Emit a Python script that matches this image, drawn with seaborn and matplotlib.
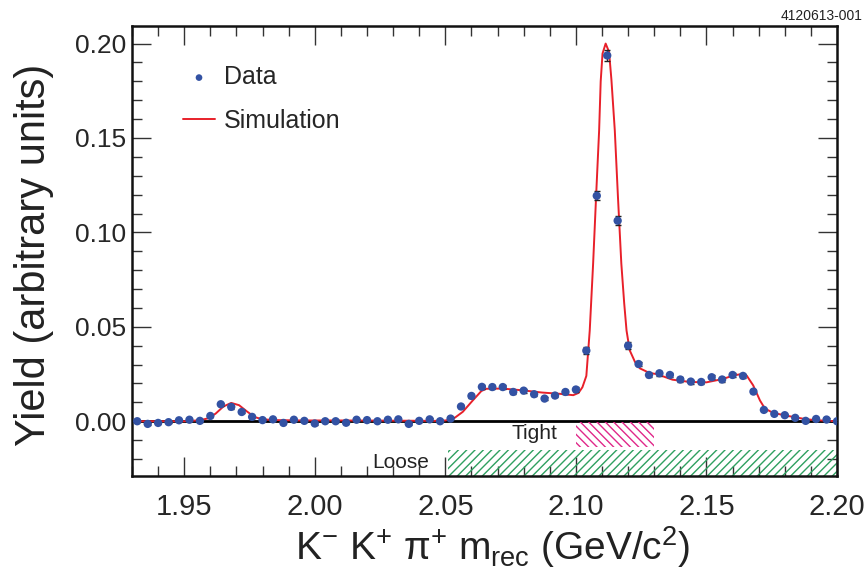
import matplotlib
matplotlib.use("Agg")
import matplotlib.pyplot as plt
import seaborn as sns
from matplotlib.patches import Rectangle

# bin centres (GeV/c^2) and measured yield
mass = [1.932, 1.936, 1.940, 1.944, 1.948, 1.952, 1.956, 1.960, 1.964, 1.968,
        1.972, 1.976, 1.980, 1.984, 1.988, 1.992, 1.996, 2.000, 2.004, 2.008,
        2.012, 2.016, 2.020, 2.024, 2.028, 2.032, 2.036, 2.040, 2.044, 2.048,
        2.052, 2.056, 2.060, 2.064, 2.068, 2.072, 2.076, 2.080, 2.084, 2.088,
        2.092, 2.096, 2.100, 2.104, 2.108, 2.112, 2.116, 2.120, 2.124, 2.128,
        2.132, 2.136, 2.140, 2.144, 2.148, 2.152, 2.156, 2.160, 2.164, 2.168,
        2.172, 2.176, 2.180, 2.184, 2.188, 2.192, 2.196, 2.200]
yield_data = [0.0000, -0.0014, -0.0009, -0.0005, 0.0005, 0.0008, 0.0002, 0.0028, 0.0090, 0.0076,
              0.0049, 0.0023, 0.0006, 0.0010, -0.0009, 0.0008, 0.0002, -0.0012, 0.0000, 0.0000,
              -0.0008, 0.0008, 0.0006, 0.0000, 0.0008, 0.0010, -0.0014, 0.0002, 0.0010, 0.0000,
              0.0014, 0.0078, 0.0134, 0.0182, 0.0181, 0.0181, 0.0155, 0.0162, 0.0143, 0.0120,
              0.0136, 0.0155, 0.0168, 0.0374, 0.1194, 0.1937, 0.1062, 0.0400, 0.0303, 0.0245,
              0.0254, 0.0245, 0.0221, 0.0210, 0.0208, 0.0233, 0.0221, 0.0245, 0.0240, 0.0157,
              0.0060, 0.0039, 0.0032, 0.0018, 0.0002, 0.0012, 0.0009, 0.0000]
yield_err = [0.0006, 0.0006, 0.0006, 0.0006, 0.0006, 0.0006, 0.0006, 0.0007, 0.0009, 0.0009,
             0.0008, 0.0007, 0.0006, 0.0006, 0.0006, 0.0006, 0.0006, 0.0006, 0.0006, 0.0006,
             0.0006, 0.0006, 0.0006, 0.0006, 0.0006, 0.0006, 0.0006, 0.0006, 0.0006, 0.0006,
             0.0006, 0.0008, 0.0010, 0.0011, 0.0011, 0.0011, 0.0010, 0.0010, 0.0010, 0.0009,
             0.0010, 0.0010, 0.0011, 0.0018, 0.0025, 0.0030, 0.0023, 0.0017, 0.0013, 0.0012,
             0.0012, 0.0012, 0.0011, 0.0011, 0.0011, 0.0011, 0.0011, 0.0012, 0.0012, 0.0010,
             0.0007, 0.0006, 0.0006, 0.0006, 0.0006, 0.0006, 0.0006, 0.0006]

# simulation curve
sim_mass = [1.930, 1.950, 1.956, 1.959, 1.962, 1.965, 1.968, 1.971, 1.974, 1.977,
            1.980, 1.985, 1.995, 2.010, 2.030, 2.046, 2.050, 2.053, 2.0567, 2.0605,
            2.0638, 2.0657, 2.072, 2.080, 2.087, 2.094, 2.099, 2.101, 2.1025, 2.104,
            2.1053, 2.1066, 2.1079, 2.1089, 2.1095, 2.1102, 2.1114, 2.1127, 2.1136, 2.1149,
            2.1161, 2.1174, 2.1185, 2.1194, 2.1206, 2.1226, 2.1245, 2.1283, 2.1309, 2.137,
            2.1436, 2.150, 2.1564, 2.1602, 2.1635, 2.1654, 2.1679, 2.1705, 2.1724, 2.1756,
            2.182, 2.1884, 2.195, 2.200]
sim_yield = [0.0000, 0.0000, 0.0005, 0.0015, 0.0040, 0.0078, 0.0097, 0.0085, 0.0052, 0.0022,
             0.0010, 0.0006, 0.0004, 0.0004, 0.0003, 0.0002, 0.0004, 0.0012, 0.0050, 0.0110,
             0.0160, 0.0172, 0.0173, 0.0163, 0.0152, 0.0145, 0.0138, 0.0150, 0.0180, 0.0240,
             0.0480, 0.0835, 0.1240, 0.1540, 0.1800, 0.1947, 0.2000, 0.1956, 0.1810, 0.1540,
             0.1190, 0.0835, 0.0625, 0.0480, 0.0376, 0.0315, 0.0280, 0.0255, 0.0250, 0.0220,
             0.0208, 0.0206, 0.0224, 0.0242, 0.0250, 0.0242, 0.0190, 0.0110, 0.0067, 0.0044,
             0.0026, 0.0010, 0.0003, 0.0000]

# selection windows
tight_window = (2.100, 2.130)
loose_window = (2.051, 2.200)

sns.set_style("ticks")
plt.rcParams["font.family"] = ["Liberation Sans", "DejaVu Sans"]
plt.rcParams["mathtext.fontset"] = "custom"
plt.rcParams["mathtext.rm"] = "Liberation Sans"
plt.rcParams["mathtext.it"] = "Liberation Sans:italic"
plt.rcParams["hatch.linewidth"] = 1.0

fig = plt.figure(figsize=(8.65, 5.75), dpi=100)
ax = fig.add_axes([132 / 865, 99 / 575, 705 / 865, 450 / 575])

ax.errorbar(mass, yield_data, yerr=yield_err, fmt="none", ecolor="#222222",
            elinewidth=1.0, capsize=2, capthick=1.0, zorder=3)
sns.scatterplot(x=mass, y=yield_data, ax=ax, color="#3352a3", s=36,
                edgecolor="none", label="Data", zorder=4)
sns.lineplot(x=sim_mass, y=sim_yield, ax=ax, color="#e8202a", lw=1.4,
             label="Simulation", zorder=2)

ax.axhline(0, color="black", lw=2.0, zorder=1)

backslash = chr(92)
ax.add_patch(Rectangle((tight_window[0], -0.0135), tight_window[1] - tight_window[0], 0.0132,
                       fill=False, hatch=backslash * 4, edgecolor="#e0288a", lw=0))
ax.add_patch(Rectangle((loose_window[0], -0.0288), loose_window[1] - loose_window[0], 0.0138,
                       fill=False, hatch="////", edgecolor="#2fa060", lw=0))
ax.text(2.093, -0.0066, "Tight", ha="right", va="center", fontsize=15, color="#222222")
ax.text(2.0437, -0.0218, "Loose", ha="right", va="center", fontsize=15, color="#222222")

ax.set_xlim(1.93, 2.20)
ax.set_ylim(-0.029, 0.2093)
ax.set_xticks([1.95, 2.00, 2.05, 2.10, 2.15, 2.20])
ax.set_yticks([0.00, 0.05, 0.10, 0.15, 0.20])
ax.set_xticks([1.93 + 0.01 * i for i in range(28)], minor=True)
ax.set_yticks([-0.02 + 0.01 * i for i in range(23)], minor=True)
ax.set_xticklabels(["1.95", "2.00", "2.05", "2.10", "2.15", "2.20"], fontsize=21)
ax.set_yticklabels(["0.00", "0.05", "0.10", "0.15", "0.20"], fontsize=19)

ax.tick_params(which="both", direction="in", top=True, right=True, color="#333333", width=1)
ax.tick_params(which="major", length=14)
ax.tick_params(which="minor", length=7)
ax.tick_params(axis="x", which="major", pad=12)
ax.tick_params(axis="y", which="major", pad=4)
for sp in ax.spines.values():
    sp.set_linewidth(1.8)
    sp.set_color("#111111")

ax.set_xlabel(r"K$^{-}$ K$^{+}$ π$^{+}$ m$_{\rm rec}$ (GeV/c$^{2}$)", fontsize=28, color="#222222")
ax.xaxis.set_label_coords(0.511, -0.107)
ax.set_ylabel("Yield (arbitrary units)", fontsize=30, color="#222222")
ax.yaxis.set_label_coords(-0.11, 0.492)

ax.legend(loc="upper left", bbox_to_anchor=(0.072, 0.913), frameon=False, fontsize=18,
          handlelength=1.3, handletextpad=0.35, labelspacing=0.8, borderpad=0,
          borderaxespad=0, markerscale=0.8)

fig.text(0.997, 0.985, "4120613-001", ha="right", va="top", fontsize=10, color="#222222")

fig.savefig("out.png", dpi=100)
